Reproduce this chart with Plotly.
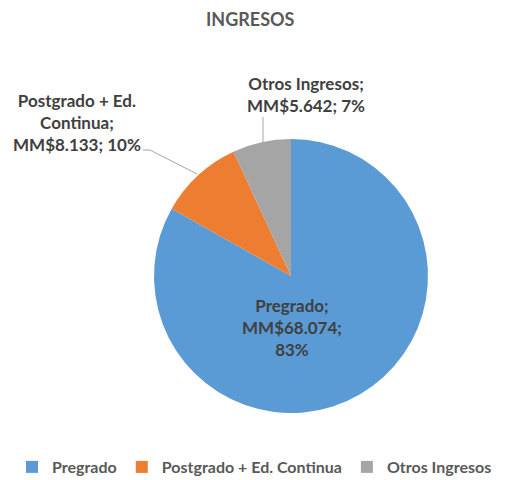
import plotly.graph_objects as go

categories = ["Pregrado", "Postgrado + Ed. Continua", "Otros Ingresos"]
values = [68074, 8133, 5642]          # MM$ (millones)
label_names = ["Pregrado;", "Postgrado + Ed.<br>Continua;", "Otros Ingresos;"]
colors = ["#5B9BD5", "#ED7D31", "#A5A5A5"]
title_text = "INGRESOS"

W, H = 511, 480
OFF = 8  # default page body margin
def px(x): return (x - OFF) / W
def py(y): return 1 - (y - OFF) / H

total = sum(values)

def money(v):
    return "MM$" + f"{v:,}".replace(",", ".")

pcts = [round(v / total * 100) for v in values]

fig = go.Figure()
fig.add_trace(go.Pie(
    labels=categories, values=values, sort=False, direction="clockwise", rotation=0,
    marker=dict(colors=colors, line=dict(width=0)),
    textinfo="none", hoverinfo="label+value+percent",
    domain=dict(x=[px(154), px(428)], y=[py(413), py(139)]),
))

FONT = "Lato, Carlito, sans-serif"
lab_font = dict(family=FONT, size=17, color="#404040", weight="bold")
texts = [
    f"{label_names[0]}<br>{money(values[0])};<br>{pcts[0]}%",
    f"{label_names[1]}<br>{money(values[1])}; {pcts[1]}%",
    f"{label_names[2]}<br>{money(values[2])}; {pcts[2]}%",
]
pos = [(292, 327), (77, 122), (306, 94)]
for t, (x, y) in zip(texts, pos):
    fig.add_annotation(x=px(x), y=py(y), xref="paper", yref="paper", text=t,
                       showarrow=False, font=lab_font, align="center",
                       xanchor="center", yanchor="middle")

# title as annotation (kept fully inside the figure)
fig.add_annotation(x=px(250), y=py(19), xref="paper", yref="paper", text=title_text,
                   showarrow=False, xanchor="center", yanchor="middle",
                   font=dict(family=FONT, size=18, color="#595959", weight="bold"))

line = dict(color="#A6A6A6", width=1)
fig.add_shape(type="path", xref="paper", yref="paper",
              path=f"M {px(143)} {py(150)} L {px(150)} {py(150)} L {px(197)} {py(174)}", line=line)
fig.add_shape(type="line", xref="paper", yref="paper",
              x0=px(263), y0=py(117), x1=px(263), y1=py(142), line=line)

fig.update_layout(
    width=W, height=H, margin=dict(l=0, r=0, t=0, b=0),
    paper_bgcolor="white", plot_bgcolor="white",
    showlegend=True,
    legend=dict(orientation="h", x=px(12), y=py(467), xanchor="left", yanchor="middle",
                font=dict(family=FONT, size=16, color="#595959", weight="bold"),
                itemwidth=30, traceorder="normal"),
)
fig.write_html("out.html")
